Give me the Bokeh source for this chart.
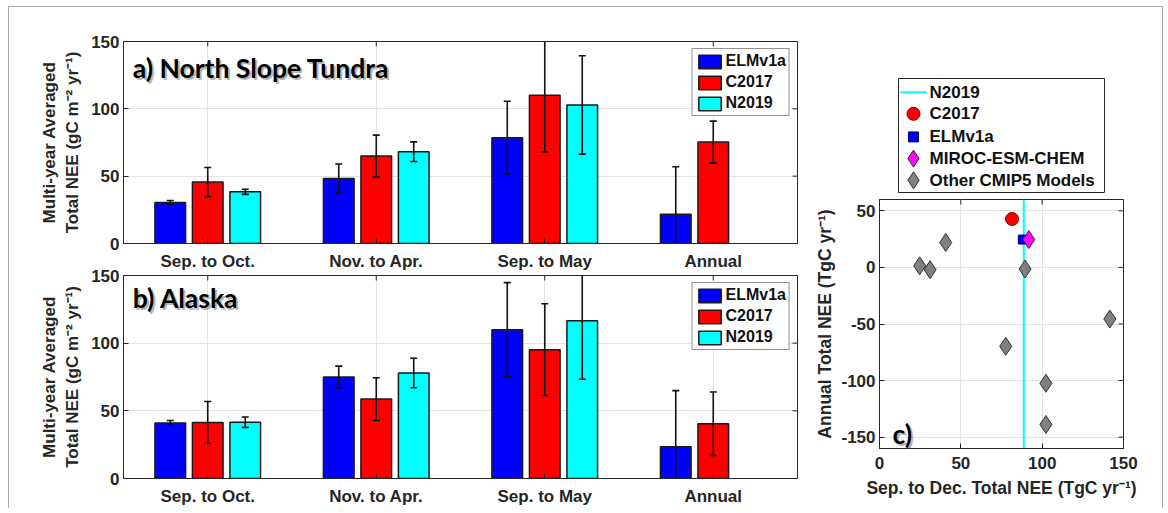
import numpy as np
from bokeh.plotting import figure
from bokeh.models import (ColumnDataSource, Legend, LegendItem, Label, FixedTicker, Range1d)
from bokeh.layouts import row, column
from bokeh.embed import file_html
from bokeh.resources import INLINE
from bokeh.core.properties import value

# ---------------- data ----------------
periods = ["Sep. to Oct.", "Nov. to Apr.", "Sep. to May", "Annual"]
series = ["ELMv1a", "C2017", "N2019"]
bar_colors = ["#0000FF", "#FF0000", "#00FFFF"]

# a) North Slope Tundra
nst_elm = [30.5, 48.3, 78.6, 21.8]
nst_elm_err = [1.4, 10.7, 27.0, 35.2]
nst_c17 = [45.6, 65.0, 110.1, 75.4]
nst_c17_err = [10.8, 15.5, 42.2, 15.5]
nst_n19 = [38.4, 68.2, 102.9]          # no annual value
nst_n19_err = [1.9, 7.3, 36.5]

# b) Alaska
ak_elm = [41.1, 75.0, 110.0, 23.4]
ak_elm_err = [1.8, 8.0, 34.7, 41.5]
ak_c17 = [41.4, 58.7, 95.2, 40.5]
ak_c17_err = [15.5, 15.8, 33.9, 23.4]
ak_n19 = [41.6, 78.0, 116.5]
ak_n19_err = [3.8, 10.9, 43.2]

# c) Sep-Dec NEE vs annual NEE (TgC/yr)
c_labels = ["N2019", "C2017", "ELMv1a", "MIROC-ESM-CHEM", "Other CMIP5 Models"]
n2019_sepdec = 88.7
c2017_pt = ([81.5], [42.8])
elm_pt = ([88.1], [24.6])
miroc_pt = ([91.8], [24.6])
cmip5_sepdec = [40.7, 24.7, 31.1, 89.5, 141.6, 77.6, 102.3, 102.3]
cmip5_annual = [22.0, 1.4, -2.0, -1.4, -45.6, -69.7, -102.4, -138.8]

bar_xticks = [1, 2, 3, 4]
bar_yticks = [0, 50, 100, 150]
c_xticks = [0, 50, 100, 150]
c_yticks = [-150, -100, -50, 0, 50]

FONT = "Liberation Sans"
TITLE_FONT = "Lato"
TXT = "#262626"
GRID = "#e3e3e3"

bar_offsets = [-0.2225, 0.0, 0.2225]
bar_width = 0.182


def style_axes(p, fs="17px", lfs="17px"):
    for ax in p.xaxis + p.yaxis:
        ax.major_label_text_font = FONT
        ax.major_label_text_font_style = "bold"
        ax.major_label_text_font_size = fs
        ax.major_label_text_color = TXT
        ax.axis_label_text_font = FONT
        ax.axis_label_text_font_style = "bold"
        ax.axis_label_text_font_size = lfs
        ax.axis_label_text_color = TXT
        ax.axis_line_color = TXT
        ax.major_tick_line_color = TXT
        ax.major_tick_in = 5
        ax.major_tick_out = 0
        ax.minor_tick_line_color = None
    p.outline_line_color = TXT
    p.outline_line_width = 1
    p.grid.grid_line_color = GRID
    p.grid.grid_line_width = 1


def mirror_ticks(p, xticks, yticks, xr, yr):
    # inward ticks on the top and right frame edges (half of each dash is clipped by the frame)
    p.scatter(x=[xr[1]] * len(yticks), y=yticks, marker="dash", size=10,
              line_color=TXT, line_width=1)
    p.scatter(x=xticks, y=[yr[1]] * len(xticks), marker="dash", size=10, angle=np.pi / 2,
              line_color=TXT, line_width=1)


def bar_panel(title, title_y, vals, errs, height, bt, bb, border_fill="white", styles=None):
    xr, yr = (0.5, 4.5), (0, 150)
    p = figure(width=798, height=height, x_range=Range1d(*xr), y_range=Range1d(*yr),
               output_backend="svg", toolbar_location=None,
               min_border_left=114, min_border_right=10, min_border_top=bt,
               min_border_bottom=bb, background_fill_color="white",
               border_fill_color=border_fill, styles=styles or {})
    p.xaxis.ticker = FixedTicker(ticks=bar_xticks)
    p.xaxis.major_label_overrides = {t: lab for t, lab in zip(bar_xticks, periods)}
    p.xaxis.major_label_standoff = 8
    p.yaxis.ticker = FixedTicker(ticks=bar_yticks)
    p.yaxis.major_label_standoff = 4
    p.yaxis.axis_label = "Multi-year Averaged\nTotal NEE (gC m\u207b\u00b2 yr\u207b\u00b9)"
    p.yaxis.axis_label_standoff = 6
    p.xgrid.ticker = FixedTicker(ticks=bar_xticks)
    p.ygrid.ticker = FixedTicker(ticks=bar_yticks)
    style_axes(p, lfs="17px")
    mirror_ticks(p, bar_xticks, bar_yticks, xr, yr)

    items = []
    for k in range(3):
        v = np.array(vals[k], dtype=float)
        e = np.array(errs[k], dtype=float)
        x = np.arange(1, len(v) + 1) + bar_offsets[k]
        src = ColumnDataSource(dict(x=x, top=v, lo=v - e, hi=v + e))
        r = p.vbar(x="x", top="top", width=bar_width, source=src, fill_color=bar_colors[k],
                   line_color="#1a1a1a", line_width=1.5)
        items.append(LegendItem(label=series[k], renderers=[r]))
        p.segment(x0="x", y0="lo", x1="x", y1="hi", source=src, line_color="#111111",
                  line_width=1.6)
        p.scatter(x="x", y="lo", source=src, marker="dash", size=7, line_color="#111111",
                  line_width=1.6)
        p.scatter(x="x", y="hi", source=src, marker="dash", size=7, line_color="#111111",
                  line_width=1.6)

    leg = Legend(items=items, location="top_right", orientation="vertical",
                 label_text_font=FONT, label_text_font_style="bold",
                 label_text_font_size="16px", label_text_color="#111111",
                 glyph_width=28, glyph_height=17, label_height=17, label_standoff=2,
                 spacing=3, padding=3, margin=7, border_line_color=TXT,
                 border_line_width=1, background_fill_color="white", background_fill_alpha=1)
    p.add_layout(leg)

    # title with soft shadow
    shadow = Label(x=0.555, y=title_y, text=title, text_font=TITLE_FONT, text_font_style="bold",
                   text_font_size="26.5px", text_color="#777777", text_alpha=0.55,
                   text_baseline="top", x_offset=2, y_offset=-2)
    lab = Label(x=0.555, y=title_y, text=title, text_font=TITLE_FONT, text_font_style="bold",
                text_font_size="26.5px", text_color="black", text_baseline="top")
    p.add_layout(shadow)
    p.add_layout(lab)
    return p


pa = bar_panel("a) North Slope Tundra", 142.5, [nst_elm, nst_c17, nst_n19],
               [nst_elm_err, nst_c17_err, nst_n19_err], 268, 34, 32)
# panel b overlaps the bottom strip of panel a by 10 px (transparent border) so that
# its top tick label has room, as in the original figure
pb = bar_panel("b) Alaska", 145.5, [ak_elm, ak_c17, ak_n19],
               [ak_elm_err, ak_c17_err, ak_n19_err], 243, 10, 30,
               border_fill=None, styles={"margin-top": "-10px"})

# ---------------- panel c ----------------
x_lo, x_hi = 0, 150
y_lo, y_hi = -160, 60
C_W = 353
C_LEFT, C_RIGHT = 72, 37
pc = figure(width=C_W, height=314, x_range=Range1d(x_lo, x_hi), y_range=Range1d(y_lo, y_hi),
            output_backend="svg", toolbar_location=None,
            min_border_left=C_LEFT, min_border_right=C_RIGHT, min_border_top=5,
            min_border_bottom=60, background_fill_color="white", border_fill_color="white")
pc.xaxis.ticker = FixedTicker(ticks=c_xticks)
pc.yaxis.ticker = FixedTicker(ticks=c_yticks)
pc.yaxis.major_label_overrides = {t: str(t) for t in c_yticks}
pc.xgrid.ticker = FixedTicker(ticks=c_xticks)
pc.ygrid.ticker = FixedTicker(ticks=c_yticks)
pc.xaxis.axis_label = "Sep. to Dec. Total NEE (TgC yr\u207b\u00b9)"
pc.yaxis.axis_label = "Annual Total NEE (TgC yr\u207b\u00b9)"
pc.xaxis.major_label_standoff = 8
pc.yaxis.major_label_standoff = 4
pc.xaxis.axis_label_standoff = 6
pc.yaxis.axis_label_standoff = 3
style_axes(pc, lfs="17.5px")
mirror_ticks(pc, c_xticks, c_yticks, (x_lo, x_hi), (y_lo, y_hi))

pc.segment(x0=[n2019_sepdec], y0=[y_lo], x1=[n2019_sepdec], y1=[y_hi],
           line_color="#00FFFF", line_width=2)
pc.scatter(x=c2017_pt[0], y=c2017_pt[1], marker="circle", size=13,
           fill_color="#FF0000", line_color="#7a0000", line_width=1)
pc.scatter(x=elm_pt[0], y=elm_pt[1], marker="square", size=9,
           fill_color="#0000FF", line_color="#00007a", line_width=1)
pc.scatter(x=miroc_pt[0], y=miroc_pt[1], marker="diamond", size=18,
           fill_color="#FF00FF", line_color="#333333", line_width=1)
pc.scatter(x=cmip5_sepdec, y=cmip5_annual, marker="diamond", size=18,
           fill_color="#808080", line_color="#333333", line_width=1)

c_shadow = Label(x=8, y=-133, text="c)", text_font=TITLE_FONT, text_font_style="bold",
                 text_font_size="26.5px", text_color="#777777", text_alpha=0.55,
                 text_baseline="top", x_offset=2, y_offset=-2)
c_lab = Label(x=8, y=-133, text="c)", text_font=TITLE_FONT, text_font_style="bold",
              text_font_size="26.5px", text_color="black", text_baseline="top")
pc.add_layout(c_shadow)
pc.add_layout(c_lab)

# ---------------- legend box for panel c (page-pixel-space figure) ----------------
# its frame is aligned with the scatter frame (page x 879..1123, page y 7..194)
pl = figure(width=C_W, height=187, x_range=Range1d(879, 1123), y_range=Range1d(194, 7),
            output_backend="svg", toolbar_location=None, x_axis_location=None,
            y_axis_location=None, min_border_left=C_LEFT, min_border_right=C_RIGHT,
            min_border_top=0, min_border_bottom=0, outline_line_color=None,
            background_fill_color="white", border_fill_color="white")
pl.grid.visible = False
box_l, box_r, box_t, box_b = 898, 1104, 78, 192
row_y = [91.7, 113.3, 136.4, 158.1, 179.8]
key_x = 913
text_x = 929
pl.quad(left=[box_l], right=[box_r], bottom=[box_b], top=[box_t], fill_color="white",
        line_color=TXT, line_width=1)
pl.segment(x0=[key_x - 13], y0=[row_y[0]], x1=[key_x + 13], y1=[row_y[0]],
           line_color="#00FFFF", line_width=2)
pl.scatter(x=[key_x], y=[row_y[1]], marker="circle", size=13, fill_color="#FF0000",
           line_color="#7a0000", line_width=1)
pl.scatter(x=[key_x], y=[row_y[2]], marker="square", size=10, fill_color="#0000FF",
           line_color="#00007a", line_width=1)
pl.scatter(x=[key_x], y=[row_y[3]], marker="diamond", size=17, fill_color="#FF00FF",
           line_color="#333333", line_width=1)
pl.scatter(x=[key_x], y=[row_y[4]], marker="diamond", size=17, fill_color="#808080",
           line_color="#333333", line_width=1)
pl.text(x=[text_x] * len(c_labels), y=row_y, text=c_labels, text_font=value(FONT),
        text_font_style="bold", text_font_size="17px", text_color="#111111",
        text_baseline="middle", text_align="left")

layout = row(column(pa, pb), column(pl, pc),
             styles={"margin-left": "8px", "margin-top": "6px", "padding-right": "2px",
                     "border-top": "1px solid #aaaaaa", "border-left": "1px solid #aaaaaa",
                     "border-right": "1px solid #aaaaaa"})

open("out.html", "w").write(file_html(layout, INLINE))
